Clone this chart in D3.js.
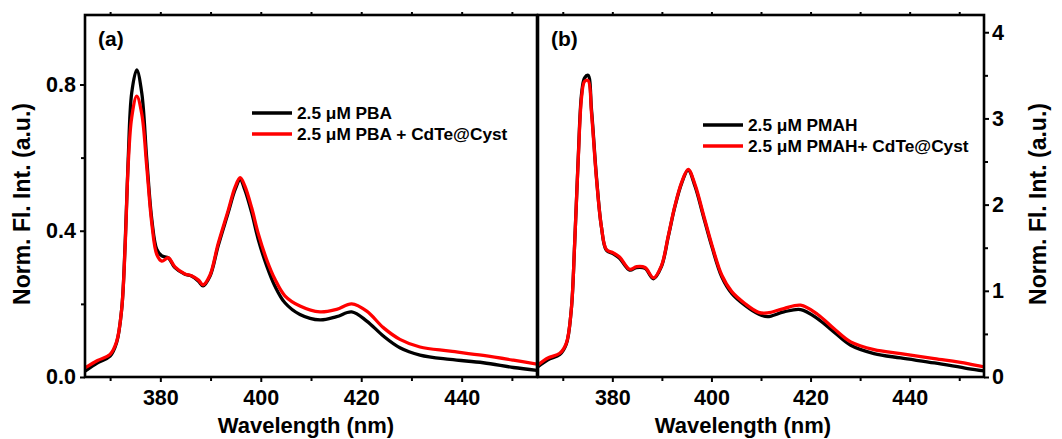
<!DOCTYPE html>
<html><head><meta charset="utf-8">
<script src="https://cdn.jsdelivr.net/npm/d3@7"></script>
<style>
html,body{margin:0;padding:0;background:#fff;}
svg{display:block;font-family:"Liberation Sans",Arial,sans-serif;font-weight:bold;}
</style></head>
<body><svg id="chart" width="1062" height="439"></svg>
<script>
// ---- data ----
const wlA = [365,367.5,370,371.3,372.3,373,373.6,374.3,375.3,376.3,377.3,378.3,379.3,380.3,381.6,382.9,384.9,386.2,387.6,388.5,389.9,391.5,393.5,394.9,395.9,396.8,398.2,399.5,401.2,402.8,404.8,407.8,411.8,415.1,418.1,421.1,424.4,427.7,431.7,437.7,444.3,450.3,455];
const pba = [0.016,0.039,0.057,0.094,0.185,0.367,0.595,0.777,0.840,0.777,0.595,0.431,0.349,0.331,0.326,0.299,0.281,0.276,0.262,0.249,0.276,0.358,0.449,0.513,0.540,0.513,0.449,0.376,0.303,0.249,0.203,0.171,0.156,0.165,0.178,0.153,0.112,0.080,0.060,0.048,0.039,0.026,0.018];
const pbaCdTe = [0.025,0.045,0.062,0.097,0.185,0.36,0.58,0.71,0.768,0.72,0.575,0.42,0.335,0.317,0.326,0.301,0.282,0.277,0.265,0.252,0.279,0.364,0.455,0.52,0.545,0.523,0.462,0.392,0.32,0.268,0.222,0.194,0.178,0.185,0.200,0.180,0.135,0.103,0.082,0.071,0.059,0.046,0.035];

const wlB = [365,367,369.4,370.7,371.7,372.4,373.1,373.8,374.4,375.1,375.8,376.8,377.8,378.8,380.2,381.5,383.5,384.9,386.6,388.3,389.9,391.3,392.6,394.0,395.3,396.7,398.4,400.1,402.1,404.1,406.8,409.5,411.3,414.6,418.0,421.4,424.7,428.1,432.8,438.2,445.0,451.7,455];
const pmah = [0.12,0.20,0.26,0.38,0.77,1.55,2.52,3.29,3.47,3.50,3.10,2.32,1.74,1.47,1.43,1.375,1.24,1.27,1.26,1.14,1.28,1.63,1.97,2.25,2.40,2.21,1.86,1.51,1.16,0.97,0.83,0.73,0.70,0.755,0.783,0.678,0.523,0.368,0.272,0.221,0.163,0.098,0.070];
const pmahCdTe = [0.14,0.22,0.275,0.39,0.77,1.55,2.50,3.25,3.43,3.44,3.06,2.30,1.74,1.48,1.44,1.39,1.25,1.28,1.27,1.15,1.29,1.64,1.98,2.26,2.41,2.23,1.88,1.53,1.18,0.99,0.85,0.75,0.743,0.794,0.833,0.728,0.562,0.407,0.318,0.272,0.214,0.156,0.116];

const xTicks = [380,400,420,440];
const xMinor = [370,390,410,430,450];
const yTicksA = [0.0,0.4,0.8];
const yMinorA = [0.2,0.6];
const yTicksB = [0,1,2,3,4];
const yMinorB = [0.5,1.5,2.5,3.5];
const legendA = ["2.5 \u03bcM PBA","2.5 \u03bcM PBA + CdTe@Cyst"];
const legendB = ["2.5 \u03bcM PMAH","2.5 \u03bcM PMAH+ CdTe@Cyst"];
const colors = ["#000000","#ff0000"];
const yTitle = "Norm. Fl. Int. (a.u.)";
const xTitle = "Wavelength (nm)";

// ---- drawing ----
const svg = d3.select("#chart");
const plotTop = 15, plotBottom = 377;

function panel(cfg){
  const x = d3.scaleLinear().domain([365,455]).range([cfg.x0,cfg.x1]);
  const y = d3.scaleLinear().domain(cfg.ydom).range([plotBottom,plotTop]);
  const g = svg.append("g");
  const clipId = "clip"+cfg.id;
  svg.append("clipPath").attr("id",clipId).append("rect")
     .attr("x",cfg.x0).attr("y",plotTop).attr("width",cfg.x1-cfg.x0).attr("height",plotBottom-plotTop);
  const line = d3.line().x(d=>x(d[0])).y(d=>y(d[1])).curve(d3.curveCatmullRom.alpha(0.5));
  cfg.series.forEach((s,i)=>{
    g.append("path").datum(cfg.wl.map((w,k)=>[w,s[k]]))
     .attr("d",line).attr("fill","none").attr("stroke",colors[i])
     .attr("stroke-width",3.3).attr("stroke-linejoin","round")
     .attr("clip-path","url(#"+clipId+")");
  });
  const xa = g.append("g").attr("transform",`translate(0,${plotBottom})`)
    .call(d3.axisBottom(x).tickValues(xTicks).tickSize(5).tickSizeOuter(0).tickPadding(8).tickFormat(d3.format("d")));
  const xm = g.append("g").attr("transform",`translate(0,${plotBottom})`)
    .call(d3.axisBottom(x).tickValues(xMinor).tickSize(4).tickSizeOuter(0).tickFormat(""));
  const xt = g.append("g").attr("transform",`translate(0,${plotTop})`)
    .call(d3.axisTop(x).tickValues(xTicks.concat(xMinor)).tickSize(3).tickSizeOuter(0).tickFormat(""));
  let ya, ym;
  if(cfg.side==="left"){
    ya = g.append("g").attr("transform",`translate(${cfg.x0},0)`)
      .call(d3.axisLeft(y).tickValues(cfg.yt).tickSize(5).tickSizeOuter(0).tickPadding(4).tickFormat(d3.format(".1f")));
    ym = g.append("g").attr("transform",`translate(${cfg.x0},0)`)
      .call(d3.axisLeft(y).tickValues(cfg.ym).tickSize(4).tickSizeOuter(0).tickFormat(""));
  } else {
    ya = g.append("g").attr("transform",`translate(${cfg.x1},0)`)
      .call(d3.axisRight(y).tickValues(cfg.yt).tickSize(5).tickSizeOuter(0).tickPadding(3).tickFormat(d3.format("d")));
    ym = g.append("g").attr("transform",`translate(${cfg.x1},0)`)
      .call(d3.axisRight(y).tickValues(cfg.ym).tickSize(4).tickSizeOuter(0).tickFormat(""));
  }
  [xa,xm,xt,ya,ym].forEach(a=>{
    a.select(".domain").remove();
    a.selectAll("line").attr("stroke","#000").attr("stroke-width",2);
    a.selectAll("text").attr("fill","#000").attr("font-size",21.5).attr("font-weight","bold")
     .attr("font-family","'Liberation Sans',Arial,sans-serif");
  });
  g.append("rect").attr("x",cfg.x0).attr("y",plotTop).attr("width",cfg.x1-cfg.x0).attr("height",plotBottom-plotTop)
   .attr("fill","none").attr("stroke","#000").attr("stroke-width",2.6);
  g.append("text").attr("x",cfg.x0+13).attr("y",46).attr("font-size",21).text(cfg.label);
  cfg.legend.forEach((t,i)=>{
    const ly = cfg.ly + i*21;
    g.append("line").attr("x1",cfg.lx).attr("x2",cfg.lx+40).attr("y1",ly).attr("y2",ly)
     .attr("stroke",colors[i]).attr("stroke-width",3.3);
    g.append("text").attr("x",cfg.lx+45).attr("y",ly+6).attr("font-size",17.3).text(t);
  });
  g.append("text").attr("x",cfg.xtc).attr("y",433).attr("text-anchor","middle")
   .attr("font-size",22).text(xTitle);
  g.append("text").attr("transform",`translate(${cfg.ytx},204) rotate(-90)`).attr("text-anchor","middle")
   .attr("font-size",23).text(yTitle);
}

panel({id:"a",x0:85,x1:537,ydom:[0,0.99],wl:wlA,series:[pba,pbaCdTe],yt:yTicksA,ym:yMinorA,side:"left",
  label:"(a)",legend:legendA,lx:252,ly:113,xtc:306,ytx:30});
panel({id:"b",x0:538,x1:984,ydom:[0,4.2],wl:wlB,series:[pmah,pmahCdTe],yt:yTicksB,ym:yMinorB,side:"right",
  label:"(b)",legend:legendB,lx:703,ly:125,xtc:743,ytx:1046});
</script></body></html>
